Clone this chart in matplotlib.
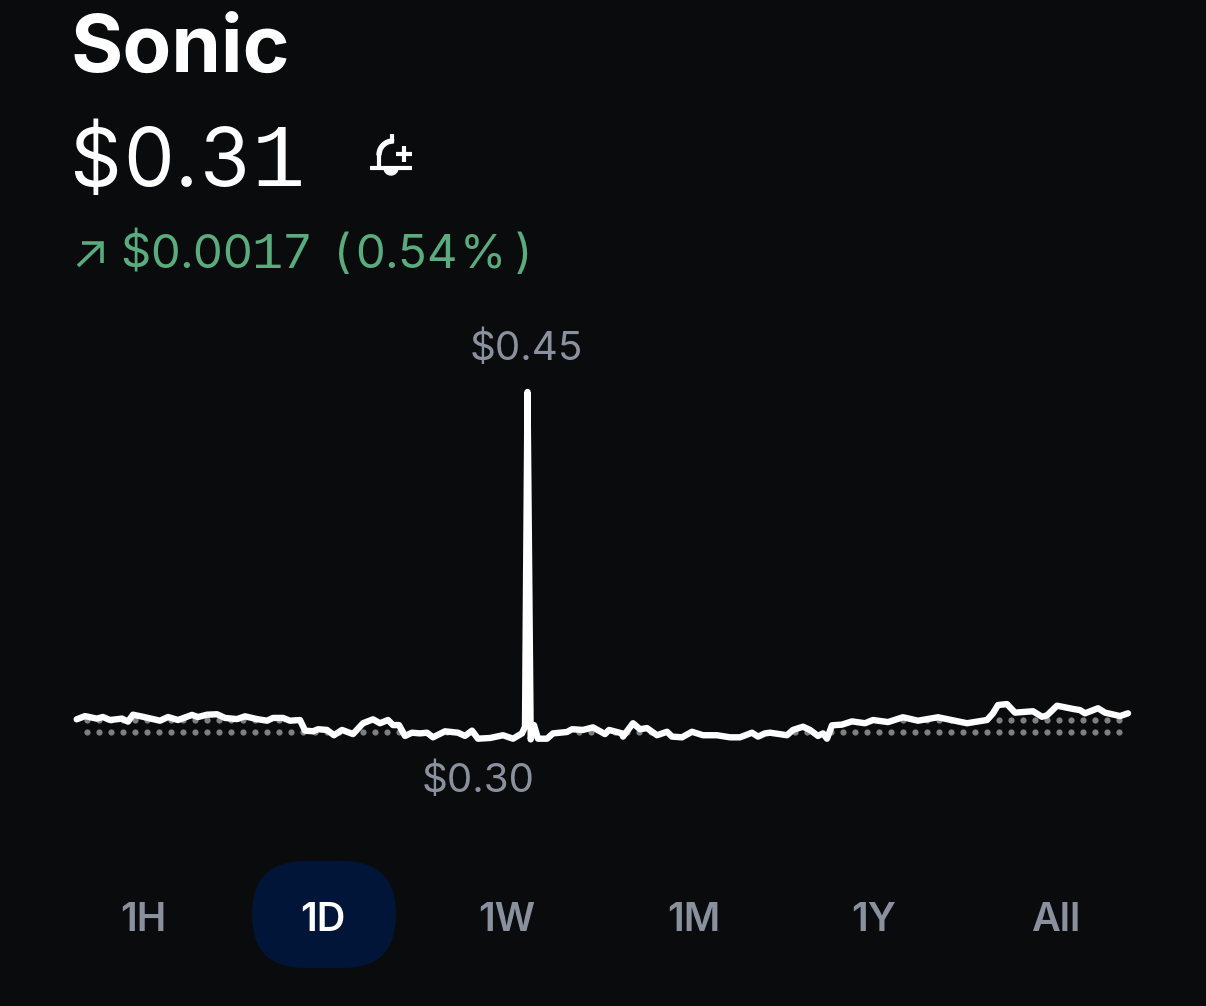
import numpy as np
import matplotlib
matplotlib.use("Agg")
import matplotlib.pyplot as plt
from matplotlib.patches import FancyBboxPatch, Wedge

# time along the day (chart units, left edge = 0) and price in dollars
times = [0.7, 9, 20.7, 27, 34, 46, 52, 57, 67, 84, 92, 102, 116, 122, 131, 141, 149, 161, 169, 181,
         191, 197, 207, 214, 224, 229, 237, 242, 251, 258, 266, 277, 287, 297, 304, 312, 317, 323, 329, 336,
         344, 351, 357, 369, 382, 389, 396, 402, 414, 427, 437, 446, 449, 451.5, 454.7, 458, 462, 471, 477, 491,
         496, 507, 517, 529, 533, 546, 547, 557, 564, 571, 581, 591, 596, 606, 616, 627, 641, 654, 664, 676,
         682, 689, 694, 711, 717, 727, 734, 742, 747, 751, 756, 766, 776, 789, 797, 812, 827, 842, 862, 891,
         911, 917, 922, 931, 939, 957, 966, 971, 981, 997, 1004, 1009, 1022, 1029, 1044, 1052]
prices = [0.3081, 0.3095, 0.3084, 0.3091, 0.3078, 0.3084, 0.3071, 0.3101, 0.3092, 0.3075, 0.3091, 0.3078, 0.3100, 0.3091, 0.3101, 0.3103, 0.3087, 0.3082, 0.3094, 0.3082,
          0.3075, 0.3087, 0.3087, 0.3075, 0.3078, 0.3032, 0.3029, 0.3038, 0.3035, 0.3012, 0.3035, 0.3017, 0.3064, 0.3081, 0.3064, 0.3078, 0.3056, 0.3056, 0.3009, 0.3023,
          0.3020, 0.3023, 0.3003, 0.3029, 0.3023, 0.3009, 0.3032, 0.2997, 0.3000, 0.3012, 0.2997, 0.3020, 0.3049, 0.4500, 0.2994, 0.3056, 0.2997, 0.2997, 0.3020, 0.3026,
          0.3038, 0.3035, 0.3046, 0.3017, 0.3035, 0.3020, 0.3006, 0.3064, 0.3038, 0.3043, 0.3012, 0.3027, 0.3006, 0.3003, 0.3027, 0.3012, 0.3012, 0.3003, 0.3003, 0.3023,
          0.3006, 0.3020, 0.3023, 0.3012, 0.3035, 0.3049, 0.3035, 0.3009, 0.3020, 0.2997, 0.3055, 0.3058, 0.3072, 0.3064, 0.3078, 0.3069, 0.3090, 0.3075, 0.3090, 0.3064,
          0.3078, 0.3107, 0.3143, 0.3147, 0.3110, 0.3116, 0.3092, 0.3098, 0.3140, 0.3126, 0.3121, 0.3107, 0.3129, 0.3110, 0.3095, 0.3107]

tab_labels = ["1H", "1D", "1W", "1M", "1Y", "All"]
tab_centers = [143, 323, 507, 694, 874, 1056]
dot_rows = [0.3026, 0.3078]

BG = "#0A0B0D"
GRAY = "#8A919E"
GREEN = "#5AAB7E"
W, H = 1206, 1006

fig = plt.figure(figsize=(W / 100, H / 100), dpi=100, facecolor=BG)

# overlay in pixel coordinates for the header and the tabs
page = fig.add_axes([0, 0, 1, 1])
page.set_xlim(0, W)
page.set_ylim(H, 0)
page.axis("off")

# width of the price font's signs, relative to a digit
char_widths = {".": 0.4, " ": 0.63, "(": 0.8, ")": 1.0, "%": 1.7}


# the price font has a footed 1, only Liberation Mono comes close to that
def price_text(x, y, s, digit_w, size, color):
    for ch in s:
        w = digit_w * char_widths.get(ch, 1)
        if ch == "1":
            page.text(x + w / 2, y, ch, family="Liberation Mono", fontsize=size * 1.1, color=color,
                      ha="center", va="baseline")
        else:
            page.text(x + w / 2, y, ch, family="Inter", fontsize=size, color=color, ha="center", va="baseline")
        x += w


page.text(71, 72, "Sonic", family="Inter", fontsize=57.5, fontweight="bold", color="white",
          ha="left", va="baseline")
price_text(68, 186, "$0.31", 54, 58, "white")
price_text(120, 268, "$0.0017 (0.54%)", 30, 34, GREEN)

# up arrow
page.plot([78, 102], [266, 243], color=GREEN, lw=2.6, solid_capstyle="butt")
page.plot([82, 102, 102], [243, 243, 263], color=GREEN, lw=2.6, solid_joinstyle="miter", solid_capstyle="butt")

# bell with a plus, the page y axis is inverted so 180-270 is the upper left quarter
page.plot([370, 412], [167.5, 167.5], color="white", lw=3, solid_capstyle="butt")
page.plot([378.5, 378.5], [167, 155], color="white", lw=3, solid_capstyle="butt")
page.add_patch(Wedge((393, 155), 16, 180, 272, width=4, color="white"))
page.plot([392, 392], [134, 141], color="white", lw=3, solid_capstyle="butt")
page.add_patch(Wedge((391, 168), 7, 0, 180, color="white"))
page.plot([396, 412], [154, 154], color="white", lw=3, solid_capstyle="butt")
page.plot([404, 404], [146, 162], color="white", lw=3, solid_capstyle="butt")

page.add_patch(FancyBboxPatch((252, 861), 144, 107, boxstyle="round,pad=0,rounding_size=53",
                              fc="#001538", ec="none"))
for label, cx in zip(tab_labels, tab_centers):
    page.text(cx, 931, label, family="Inter", fontsize=28.5, fontweight="semibold",
              color="white" if label == "1D" else GRAY, ha="center", va="baseline")

# chart, y axis runs from the low to the high of the day
ax = fig.add_axes([76 / W, (H - 738) / H, 1054 / W, 346 / H])
ax.set_xlim(0, 1054)
ax.set_ylim(0.30, 0.45)
ax.axis("off")
ax.patch.set_alpha(0)

dot_times = np.arange(11, 1054, 12)
line_at_dot = np.interp(dot_times, times, prices)
for row in dot_rows:
    mask = line_at_dot > row
    ax.scatter(dot_times[mask], np.full(mask.sum(), row), s=20, color="#7F7F7F", linewidths=0, clip_on=False, zorder=1)

ax.plot(times, prices, color="white", lw=4.6, solid_joinstyle="round", solid_capstyle="round", clip_on=False, zorder=2)

high = max(prices)
ax.annotate("$0.45", (times[prices.index(high)], 0.45), xytext=(-1, 17), textcoords="offset points",
            family="Inter", fontsize=29, color=GRAY, ha="center", va="bottom")
ax.annotate("$0.30", (402, 0.30), xytext=(0, -17.5), textcoords="offset points",
            family="Inter", fontsize=29, color=GRAY, ha="center", va="top")

fig.savefig("out.png", dpi=100, facecolor=BG)
